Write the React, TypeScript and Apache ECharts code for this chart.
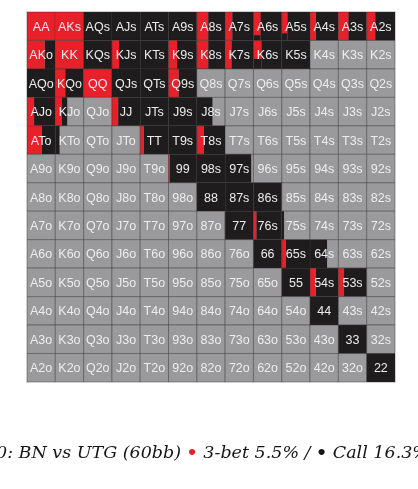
import React, { useEffect, useRef } from "react";
import * as echarts from "echarts";

const ranks = ["A", "K", "Q", "J", "T", "9", "8", "7", "6", "5", "4", "3", "2"];

// 3-bet frequency (fraction of the cell width), row = first rank, col = second rank
const raiseFreq = [
  [1, 1, 0, 0, 0, 0, 0.4, 0.25, 0.25, 0.2, 0.2, 0.35, 0.3],
  [0.62, 1, 0, 0.25, 0, 0.3, 0.4, 0.22, 0.28, 0, 0, 0, 0],
  [0, 0.35, 1, 0, 0, 0.35, 0, 0, 0, 0, 0, 0, 0],
  [0.25, 0.22, 0, 0.22, 0, 0, 0, 0, 0, 0, 0, 0, 0],
  [0.52, 0, 0, 0, 0.13, 0, 0.25, 0, 0, 0, 0, 0, 0],
  [0, 0, 0, 0, 0, 0.05, 0, 0, 0, 0, 0, 0, 0],
  [0, 0, 0, 0, 0, 0, 0, 0, 0, 0, 0, 0, 0],
  [0, 0, 0, 0, 0, 0, 0, 0, 0.1, 0, 0, 0, 0],
  [0, 0, 0, 0, 0, 0, 0, 0, 0, 0.15, 0, 0, 0],
  [0, 0, 0, 0, 0, 0, 0, 0, 0, 0, 0.2, 0.2, 0],
  [0, 0, 0, 0, 0, 0, 0, 0, 0, 0, 0, 0, 0],
  [0, 0, 0, 0, 0, 0, 0, 0, 0, 0, 0, 0, 0],
  [0, 0, 0, 0, 0, 0, 0, 0, 0, 0, 0, 0, 0],
];

// call frequency (fraction of the cell width, drawn after the 3-bet part)
const callFreq = [
  [0, 0, 1, 1, 1, 1, 0.6, 0.75, 0.75, 0.8, 0.8, 0.65, 0.7],
  [0.38, 0, 1, 0.75, 1, 0.7, 0.6, 0.78, 0.72, 1, 0, 0, 0],
  [1, 0.65, 0, 1, 1, 0.65, 0, 0, 0, 0, 0, 0, 0],
  [0.75, 0.2, 0, 0.78, 1, 1, 0.55, 0, 0, 0, 0, 0, 0],
  [0.48, 0.15, 0, 0, 0.87, 1, 0.75, 0, 0, 0, 0, 0, 0],
  [0, 0, 0, 0, 0, 0.95, 1, 0.92, 0, 0, 0, 0, 0],
  [0, 0, 0, 0, 0, 0, 1, 1, 1, 0, 0, 0, 0],
  [0, 0, 0, 0, 0, 0, 0, 1, 0.9, 0.08, 0, 0, 0],
  [0, 0, 0, 0, 0, 0, 0, 0, 1, 0.85, 0.6, 0, 0],
  [0, 0, 0, 0, 0, 0, 0, 0, 0, 1, 0.8, 0.8, 0],
  [0, 0, 0, 0, 0, 0, 0, 0, 0, 0, 1, 0, 0],
  [0, 0, 0, 0, 0, 0, 0, 0, 0, 0, 0, 1, 0],
  [0, 0, 0, 0, 0, 0, 0, 0, 0, 0, 0, 0, 1],
];

// hands whose 3-bet strip covers only the top part of the cell
const partialRaiseHands = ["A6s", "A5s", "K6s"];
const partialRaiseHeights = [0.82, 0.75, 0.65];

const captionText = "0: BN vs UTG (60bb) {r|•} 3-bet 5.5% / {k|•} Call 16.3%";

const RED = "#e8202a";
const BLACK = "#1f1c1d";
const GRAY = "#9a9a9c";

function handLabel(r: number, c: number): string {
  if (r === c) return ranks[r] + ranks[c];
  if (c > r) return ranks[r] + ranks[c] + "s";
  return ranks[c] + ranks[r] + "o";
}

export default function App() {
  const ref = useRef<HTMLDivElement>(null);
  useEffect(() => {
    if (!ref.current) return;
    const chart = echarts.init(ref.current, null, { renderer: "svg" });
    const data: number[][] = [];
    const labels: string[] = [];
    for (let r = 0; r < 13; r++) {
      for (let c = 0; c < 13; c++) {
        const label = handLabel(r, c);
        const pi = partialRaiseHands.indexOf(label);
        data.push([c, r, raiseFreq[r][c], callFreq[r][c], pi >= 0 ? partialRaiseHeights[pi] : 1]);
        labels.push(label);
      }
    }
    chart.setOption({
      animation: false,
      grid: { left: 27, top: 12, width: 368, height: 370 },
      xAxis: { type: "category", data: ranks, show: false },
      yAxis: { type: "category", data: ranks, inverse: true, show: false },
      series: [
        {
          type: "custom",
          data,
          renderItem: (params: any, api: any) => {
            const center = api.coord([api.value(0), api.value(1)]);
            const size = api.size([1, 1]);
            const w = size[0];
            const h = size[1];
            const x = center[0] - w / 2;
            const y = center[1] - h / 2;
            const rf = api.value(2);
            const cf = api.value(3);
            const rh = api.value(4);
            const children: any[] = [
              { type: "rect", shape: { x, y, width: w, height: h }, style: { fill: GRAY } },
            ];
            if (cf > 0) {
              children.push({
                type: "rect",
                shape: { x: x + w * rf, y, width: w * cf, height: h },
                style: { fill: BLACK },
              });
            }
            if (rf > 0) {
              if (rh < 1) {
                children.push({
                  type: "rect",
                  shape: { x, y, width: w * rf, height: h },
                  style: { fill: BLACK },
                });
              }
              children.push({
                type: "rect",
                shape: { x, y, width: w * rf, height: h * rh },
                style: { fill: RED },
              });
            }
            children.push({
              type: "rect",
              shape: { x, y, width: w, height: h },
              style: { fill: "none", stroke: "rgba(40,40,40,0.4)", lineWidth: 1 },
            });
            children.push({
              type: "text",
              style: {
                text: labels[params.dataIndex],
                x: center[0],
                y: center[1] + 0.5,
                align: "center",
                verticalAlign: "middle",
                fill: "#ededed",
                font: '12.5px "Liberation Sans", Arial, sans-serif',
              },
            });
            return { type: "group", children };
          },
        },
      ],
      graphic: [
        {
          type: "rect",
          shape: { x: 26.5, y: 11.5, width: 369, height: 371 },
          style: { fill: "none", stroke: "#cfcfcf", lineWidth: 1 },
          z: 10,
        },
        {
          type: "text",
          left: -4,
          top: 443,
          style: {
            text: captionText,
            font: 'italic 17.5px "DejaVu Serif", serif',
            fill: "#151515",
            rich: {
              r: { fill: RED, font: 'bold 17.5px "DejaVu Serif", serif' },
              k: { fill: "#151515", font: 'bold 17.5px "DejaVu Serif", serif' },
            },
          },
        },
      ],
    });
    return () => chart.dispose();
  }, []);
  return <div ref={ref} style={{ position: "fixed", left: 0, top: 0, width: 418, height: 489 }} />;
}
